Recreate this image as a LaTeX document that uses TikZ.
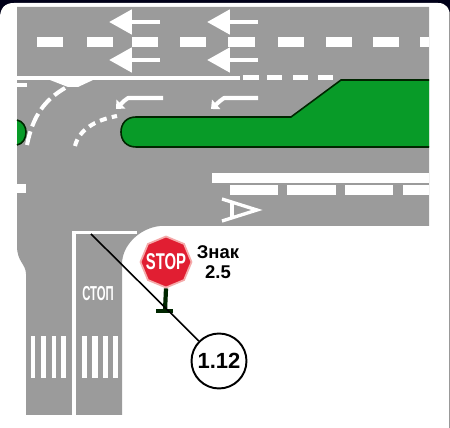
\documentclass[tikz,border=0pt]{standalone}
\usepackage{graphicx}
\usepackage{fontspec}
\setmainfont{Liberation Sans}
\usetikzlibrary{arrows.meta, shapes.geometric}

\definecolor{roadgray}{RGB}{155,155,155}
\definecolor{islandgreen}{RGB}{8,155,40}
\definecolor{signred}{RGB}{225,30,50}
\definecolor{signpink}{RGB}{245,170,170}
\tikzset{
	mark white/.style={fill=white, draw=none},
	lane arrow/.style={white, line width=2.8pt, -{Triangle[length=13pt, width=13.6pt]}},
	turn arrow/.style={white, line width=2.3pt, line join=round, -{Triangle[length=4pt, width=7pt]}},
	curve dash/.style={white, line width=2.3pt},
	sign text/.style={font=\bfseries\fontsize{10.5}{12}\selectfont, text=black, inner sep=0pt},
}

\begin{document}
\begin{tikzpicture}[x=0.02cm, y=-0.02cm]
		\useasboundingbox (0,0) rectangle (450,428);
		%sheet
		\fill[black!90!blue] (0,0) rectangle (450,20);
		\fill[white] (0,18) to (0,428) to (450,428) to (450,18) .. controls (450,8) and (446,3) .. (438,3) to (14,3) .. controls (5,3) and (0,8) .. (0,18);
		\draw[black!40, line width=0.5pt] (449.5,12) -- (449.5,428);
		%road
		\fill[roadgray] (17,7) -- (429,7) -- (429,226) -- (160,226) .. controls (140,228) and (122,245) .. (122,264) -- (122,415) -- (26,415) -- (26,274) .. controls (26,264) and (17,262) .. (17,246) -- cycle;
		%islands
		\draw[fill=islandgreen, draw=black!85!green, line width=0.9pt] (429,80) -- (341,80) -- (291,117) -- (136,117) .. controls (126,117) and (121,124) .. (121,132) .. controls (121,140) and (126,147) .. (136,147) -- (429,147);
		\draw[fill=islandgreen, draw=black!85!green, line width=0.9pt] (17,120) .. controls (23,121) and (26,127) .. (26,132) .. controls (26,138) and (23,144) .. (17,145);
		%centre line
		\foreach \xs/\xe in {37/63, 87/113, 132/158, 180/206, 278/304, 326/352, 373/399, 420/429, 228/255}
			\fill[mark white] (\xs,37) rectangle (\xe,47);
		%lane arrows
		\foreach \xs/\xe in {160/109, 258/207}{
			\draw[lane arrow] (\xs,22) -- (\xe,22);
			\draw[lane arrow] (\xs,60) -- (\xe,60);
		}
		%edge line
		\fill[mark white] (17,76) rectangle (240,80);
		\fill[mark white] (50,80) -- (93,80) -- (78,87) -- (68,87) -- cycle;
		\fill[mark white] (17,83) rectangle (27,87);
		\foreach \xs/\xe in {243/259, 267/282, 293/308, 318/333}
			\fill[mark white] (\xs,75.5) rectangle (\xe,80);
		%turn arrows
		\draw[turn arrow] (163,98) -- (128,98) -- (124,101) -- (116,109);
		\draw[turn arrow] (258,98) -- (224,98) -- (220,101) -- (211,109);
		%dashed curves
		\draw[curve dash, dash pattern=on 8pt off 3pt] (27,145) .. controls (33,115) and (45,100) .. (65,88);
		\draw[curve dash, dash pattern=on 4pt off 3pt] (75,146) .. controls (79,130) and (95,120) .. (117,116);
		%lower lane
		\fill[mark white] (212,173) rectangle (429,183);
		\fill[mark white] (17,184) rectangle (26,193);
		\foreach \xs/\xe in {230/278, 287/336, 345/393, 403/429}
			\fill[mark white] (\xs,185) rectangle (\xe,195);
		%letter on the road
		\draw[white, line width=1.9pt] (222,199) -- (257,210) -- (222,221);
		\draw[white, line width=1.9pt] (232,203) -- (232,218);
		%side road
		\fill[mark white] (72,231) rectangle (137,234);
		\fill[mark white] (72,231) rectangle (76,415);
		\foreach \xs/\xe in {31/35, 41/46, 52/56, 61/66, 82/87, 92/98, 103/108, 113/118}
			\fill[mark white] (\xs,336) rectangle (\xe,378);
		\node[text=white, inner sep=0pt, font=\bfseries\fontsize{11.5}{12}\selectfont] (stopword) at (98,294) {\scalebox{0.56}[1]{СТОП}};
		%sign
		\coordinate (polebase) at (165,311);
		\coordinate (baseleft) at (156,311);
		\coordinate (baseright) at (173,311);
		\node[regular polygon, regular polygon sides=8, shape border rotate=22.5, minimum size=1.02cm, inner sep=0pt, fill=signred, draw=signpink, line width=1pt] (stopsign) at (166,262) {};
		\node[text=white, inner sep=0pt, font=\bfseries\fontsize{13}{14}\selectfont] (stoptext) at (stopsign.center) {\scalebox{0.65}[1]{STOP}};
		\draw[black!85!green, line width=2.4pt] (stopsign.south) -- (polebase);
		\draw[black!85!green, line width=2pt] (baseleft) -- (baseright);
		\node[sign text] (znak) at (218,252) {Знак};
		\node[sign text] (znaknum) at (218,272) {2.5};
		%leader
		\coordinate (stopline) at (91,234);
		\node[circle, draw=black, fill=white, line width=1.1pt, minimum size=1.1cm, inner sep=0pt, font=\bfseries\fontsize{12.5}{13}\selectfont] (marker) at (219,361) {1.12};
		\draw[black, line width=0.9pt] (stopline) -- (marker);
		\end{tikzpicture}
\end{document}
